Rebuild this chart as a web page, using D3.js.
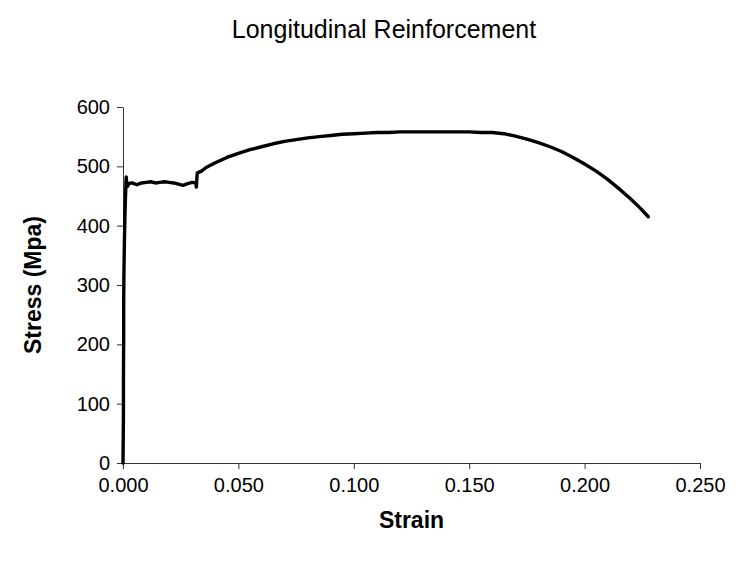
<!DOCTYPE html>
<html>
<head>
<meta charset="utf-8">
<script src="https://cdn.jsdelivr.net/npm/d3@7"></script>
<style>
  body { margin: 0; background: #fff; }
  svg { display: block; font-family: "Liberation Sans", Arial, sans-serif; }
</style>
</head>
<body>
<svg id="chart" width="736" height="561"></svg>
<script>
// Tensile test of longitudinal reinforcing bar: strain (-) vs stress (MPa)
const strain = [
  0.0000, 0.0001, 0.0002, 0.0002, 0.0003, 0.0003, 0.0004, 0.0006, 0.0008, 0.0010,
  0.0012, 0.0013, 0.0014, 0.0016, 0.0020, 0.0025, 0.0040, 0.0060, 0.0080, 0.0100,
  0.0120, 0.0140, 0.0160, 0.0180, 0.0200, 0.0220, 0.0240, 0.0260, 0.0280, 0.0300,
  0.0315, 0.0318, 0.0320, 0.0322, 0.0340, 0.0360, 0.0400, 0.0450, 0.0500, 0.0550,
  0.0600, 0.0650, 0.0700, 0.0750, 0.0800, 0.0850, 0.0900, 0.0950, 0.1000, 0.1050,
  0.1100, 0.1150, 0.1200, 0.1300, 0.1400, 0.1500, 0.1550, 0.1600, 0.1650, 0.1700,
  0.1750, 0.1800, 0.1850, 0.1900, 0.1950, 0.2000, 0.2050, 0.2100, 0.2150, 0.2200,
  0.2240, 0.2276
];
const stress = [
  0, 40, 90, 150, 210, 270, 320, 370, 410, 440,
  462, 475, 482, 470, 466, 471, 472, 469, 472, 473,
  474, 472, 473, 474, 473, 472, 470, 468, 471, 473,
  472, 465, 480, 489, 492, 498, 506, 515, 522, 528,
  533, 538, 542, 545, 548, 550, 552, 554, 555, 556,
  557, 557, 558, 558, 558, 558, 557, 557, 555, 551,
  546, 540, 533, 525, 515, 504, 492, 478, 462, 445,
  430, 415
];
const xTicks = [0, 0.05, 0.1, 0.15, 0.2, 0.25];
const yTicks = [0, 100, 200, 300, 400, 500, 600];
const titleText = "Longitudinal Reinforcement";
const xTitle = "Strain";
const yTitle = "Stress (Mpa)";

const svg = d3.select("#chart");
const plot = { left: 123, right: 700, top: 107, bottom: 463 };

const x = d3.scaleLinear().domain([0, 0.25]).range([plot.left, plot.right]);
const y = d3.scaleLinear().domain([0, 600]).range([plot.bottom, plot.top]);

const axisColor = "#333";
const tickFont = 20;

// x axis
const gx = svg.append("g").attr("transform", `translate(0,${plot.bottom})`)
  .call(d3.axisBottom(x).tickValues(xTicks).tickFormat(d3.format(".3f"))
    .tickSizeInner(6).tickSizeOuter(0).tickPadding(9));
gx.select(".domain").attr("stroke", axisColor);
gx.selectAll(".tick line").attr("stroke", axisColor);
gx.selectAll(".tick text").attr("font-size", tickFont).attr("fill", "#000")
  .attr("font-family", "'Liberation Sans', Arial, sans-serif");

// y axis
const gy = svg.append("g").attr("transform", `translate(${plot.left},0)`)
  .call(d3.axisLeft(y).tickValues(yTicks).tickFormat(d3.format("d"))
    .tickSizeInner(6).tickSizeOuter(0).tickPadding(7));
gy.select(".domain").attr("stroke", axisColor);
gy.selectAll(".tick line").attr("stroke", axisColor);
gy.selectAll(".tick text").attr("font-size", tickFont).attr("fill", "#000")
  .attr("font-family", "'Liberation Sans', Arial, sans-serif");

// stress-strain curve
const pts = strain.map((s, i) => [s, stress[i]]);
svg.append("path")
  .datum(pts)
  .attr("fill", "none")
  .attr("stroke", "#000")
  .attr("stroke-width", 3.4)
  .attr("stroke-linejoin", "round")
  .attr("stroke-linecap", "round")
  .attr("d", d3.line().x(d => x(d[0])).y(d => y(d[1])));

// titles
svg.append("text").attr("x", 384).attr("y", 38)
  .attr("text-anchor", "middle").attr("font-size", 25).text(titleText);
svg.append("text").attr("x", (plot.left + plot.right) / 2).attr("y", 528)
  .attr("text-anchor", "middle").attr("font-size", 23).attr("font-weight", "bold").text(xTitle);
svg.append("text").attr("transform", `translate(41,${(plot.top + plot.bottom) / 2}) rotate(-90)`)
  .attr("text-anchor", "middle").attr("font-size", 23).attr("font-weight", "bold").text(yTitle);
</script>
</body>
</html>
